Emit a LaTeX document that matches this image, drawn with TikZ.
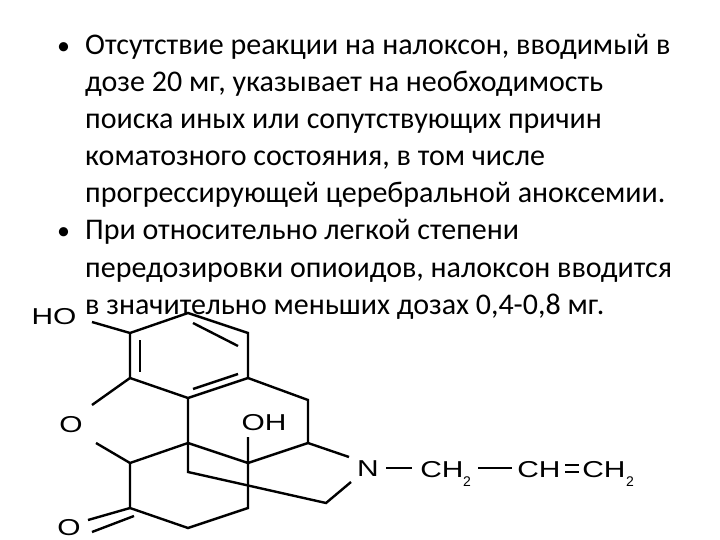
\documentclass[tikz,border=0pt]{standalone}
\usepackage{fontspec}
\setmainfont{Carlito}
\newfontfamily\chem{Liberation Sans}
\begin{document}
\begin{tikzpicture}[x=1pt,y=-1pt,
  txt/.style={anchor=base west,inner sep=0,font=\fontsize{30}{32}\selectfont},
  bul/.style={anchor=base west,inner sep=0,font=\fontsize{26}{32}\selectfont},
  bond/.style={line width=2.4pt},
  atm/.style={inner sep=0,font=\chem\fontsize{23}{23}\selectfont,xscale=1.3},
  sub/.style={inner sep=0,anchor=base west,font=\chem\fontsize{14}{14}\selectfont}]
\useasboundingbox (0,0) rectangle (720,540);
\node[bul] (b1) at (57,55) {•};
\node[txt] (l1) at (85,55) {Отсутствие реакции на налоксон, вводимый в};
\node[txt] (l2) at (85,92) {дозе 20 мг, указывает на необходимость};
\node[txt] (l3) at (85,129) {поиска иных или сопутствующих причин};
\node[txt] (l4) at (85,166) {коматозного состояния, в том числе};
\node[txt] (l5) at (85,203) {прогрессирующей церебральной аноксемии.};
\node[bul] (b2) at (57,240) {•};
\node[txt] (l6) at (85,240) {При относительно легкой степени};
\node[txt] (l7) at (85,277) {передозировки опиоидов, налоксон вводится};
\node[txt] (l8) at (85,314) {в значительно меньших дозах 0,4-0,8 мг.};
% atoms
\coordinate (A) at (130,333); \coordinate (B) at (188,313);
\coordinate (C) at (248,333); \coordinate (D) at (248,378);
\coordinate (E) at (188,398); \coordinate (F) at (130,378);
\coordinate (G) at (130,463); \coordinate (H) at (188,443);
\coordinate (I) at (248,463); \coordinate (J) at (308,400);
\coordinate (K) at (308,443); \coordinate (L) at (188,472);
\coordinate (M) at (326,503); \coordinate (P) at (248,508);
\coordinate (Q) at (188,528); \coordinate (R) at (130,508);
\node[atm] (HO) at (54,317) {HO};
\node[atm] (O1) at (71,425) {O};
\node[atm] (OH) at (264,423) {OH};
\node[atm] (N) at (368,469) {N};
\node[atm] (O2) at (69,528) {O};
\node[atm,anchor=base west] (ch) at (420,477) {CH};
\node[sub] (s1) at (463,486) {2};
\node[atm,anchor=base west] (ch2) at (517,477) {CH};
\node[atm,anchor=base west] (ch3) at (582,477) {CH};
\node[sub] (s2) at (626,486) {2};
\draw[bond] (92,322) -- (A) -- (B) -- (C) -- (D) -- (E) -- (F) -- (A);
\draw[bond] (140,340) -- (140,372);
\draw[bond] (193,323) -- (238,346);
\draw[bond] (238,374) -- (193,389);
\draw[bond] (F) -- (92,405);
\draw[bond] (96,443) -- (G) -- (H) -- (I) -- (248,437);
\draw[bond] (E) -- (H) -- (L) -- (M) -- (351,482);
\draw[bond] (D) -- (J) -- (K) -- (349,457);
\draw[bond] (K) -- (I) -- (P) -- (Q) -- (R) -- (G);
\draw[bond] (R) -- (88,520) (134,516) -- (92,532);
\draw[bond] (386,468) -- (412,468);
\draw[bond] (478,468) -- (512,468);
\draw[bond] (565,465) -- (579,465) (565,472) -- (579,472);
\end{tikzpicture}
\end{document}
